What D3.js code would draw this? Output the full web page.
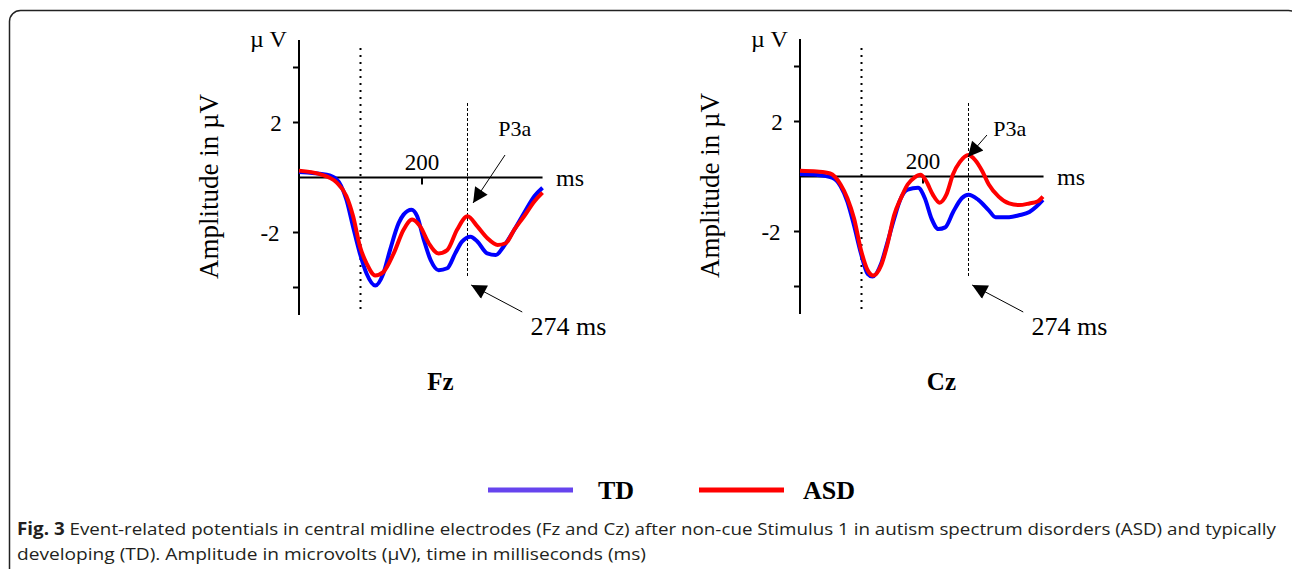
<!DOCTYPE html>
<html>
<head>
<meta charset="utf-8">
<script src="https://cdn.jsdelivr.net/npm/d3@7"></script>
<style>
    body { margin: 0; background: #fff; }
    svg { display: block; }
    .serif { font-family: "Liberation Serif", "DejaVu Serif", serif; fill: #000; }
</style>
</head>
<body>
<svg id="chart" width="1292" height="569"></svg>
<script>
// ERP waveforms, time in ms, amplitude in µV
const fzTdTime = [0, 45, 61, 77, 88, 99, 110, 124, 137, 148, 162, 170, 183, 192, 203, 214, 227, 241, 254, 265, 279, 290, 306, 320, 333, 350, 366, 383, 396];
const fzTdAmp = [0.2, 0.1, -0.06, -0.8, -1.8, -2.76, -3.5, -3.93, -3.5, -2.64, -1.66, -1.35, -1.17, -1.4, -2.27, -3.0, -3.37, -3.3, -2.76, -2.33, -2.15, -2.33, -2.76, -2.82, -2.5, -1.9, -1.29, -0.67, -0.37];
const fzAsdTime = [0, 34, 61, 77, 88, 99, 110, 124, 137, 154, 170, 184, 197, 211, 227, 241, 257, 274, 290, 306, 323, 336, 350, 366, 383, 396];
const fzAsdAmp = [0.25, 0.12, -0.18, -0.67, -1.41, -2.5, -3.13, -3.56, -3.44, -2.76, -1.9, -1.53, -1.78, -2.39, -2.76, -2.64, -1.9, -1.41, -1.78, -2.2, -2.45, -2.39, -1.9, -1.41, -0.86, -0.55];

const czTdTime = [0, 27, 52, 66, 77, 88, 99, 110, 118, 132, 142, 153, 164, 175, 192, 203, 214, 225, 236, 249, 263, 274, 290, 307, 318, 340, 356, 373, 384, 395];
const czTdAmp = [0.09, 0.06, -0.04, -0.35, -0.91, -1.79, -2.79, -3.54, -3.64, -3.16, -2.41, -1.54, -0.79, -0.48, -0.41, -0.79, -1.54, -1.91, -1.85, -1.29, -0.79, -0.66, -0.85, -1.23, -1.48, -1.48, -1.41, -1.29, -1.1, -0.85];
const czAsdTime = [0, 27, 49, 66, 77, 88, 99, 110, 119, 132, 142, 153, 164, 175, 186, 196, 205, 216, 227, 238, 249, 260, 274, 285, 296, 307, 323, 340, 356, 373, 386, 395];
const czAsdAmp = [0.21, 0.18, 0.11, -0.29, -0.79, -1.54, -2.66, -3.41, -3.6, -3.23, -2.48, -1.41, -0.79, -0.29, -0.04, 0.06, -0.16, -0.66, -0.95, -0.66, 0.09, 0.53, 0.78, 0.59, 0.21, -0.29, -0.73, -0.98, -1.04, -0.98, -0.91, -0.73];

const yTicks = [4, 2, 0, -2, -4];
const yTickLabels = ["2", "-2"];
const xTickValue = 200;
const markerTimes = [100, 274];

const seriesNames = ["TD", "ASD"];
const seriesColors = {TD: "#0000ff", ASD: "#ff0000"};
const legendColors = {TD: "#6644ee", ASD: "#ff0000"};

// annotation anchors per panel: [ms, px y]
const panels = [
    {name: "Fz", left: 299, yRange: [315, 40], tdT: fzTdTime, tdV: fzTdAmp, asdT: fzAsdTime, asdV: fzAsdAmp,
        p3aLabel: [351, 136], p3aTail: [335, 155], p3aTip: [283, 203]},
    {name: "Cz", left: 800, yRange: [314, 39], tdT: czTdTime, tdV: czTdAmp, asdT: czAsdTime, asdV: czAsdAmp,
        p3aLabel: [341, 136], p3aTail: [304, 135], p3aTip: [273, 157]}
];

const svg = d3.select("#chart");

// outer frame (rounded, runs off the bottom/right)
svg.append("rect").attr("x", 9.5).attr("y", 10.5).attr("width", 1290).attr("height", 620)
    .attr("rx", 11).attr("fill", "none").attr("stroke", "#222").attr("stroke-width", 1.5);

// arrow marker
svg.append("defs").append("marker").attr("id", "arrowHead")
    .attr("viewBox", "0 0 10 10").attr("refX", 10).attr("refY", 5)
    .attr("markerWidth", 19).attr("markerHeight", 15).attr("markerUnits", "userSpaceOnUse")
    .attr("orient", "auto")
    .append("path").attr("d", "M0,0 L10,5 L0,10 Z").attr("fill", "#000");

function drawPanel(p) {
    let x = d3.scaleLinear().domain([0, 400]).range([p.left, p.left + 246]);
    let y = d3.scaleLinear().domain([-5, 5]).range(p.yRange);
    let g = svg.append("g").attr("id", "panel_" + p.name);

    // y axis line + left ticks
    g.append("line").attr("x1", x(0)).attr("x2", x(0)).attr("y1", y(5)).attr("y2", y(-5))
        .attr("stroke", "#000").attr("stroke-width", 2);
    g.selectAll(".ytick").data(yTicks.filter(d => d !== 0)).enter().append("line")
        .attr("x1", x(0) - 6).attr("x2", x(0)).attr("y1", d => y(d)).attr("y2", d => y(d))
        .attr("stroke", "#000").attr("stroke-width", 2);
    g.append("text").attr("class", "serif").attr("x", x(0) - 23).attr("y", y(2) + 8)
        .attr("text-anchor", "middle").style("font-size", "23px").text(yTickLabels[0]);
    g.append("text").attr("class", "serif").attr("x", x(0) - 29).attr("y", y(-2) + 8)
        .attr("text-anchor", "middle").style("font-size", "23px").text(yTickLabels[1]);

    // zero line and 200 ms tick
    g.append("line").attr("x1", x(0)).attr("x2", x(396)).attr("y1", y(0)).attr("y2", y(0))
        .attr("stroke", "#000").attr("stroke-width", 2);
    g.append("line").attr("x1", x(xTickValue)).attr("x2", x(xTickValue)).attr("y1", y(0)).attr("y2", y(0) + 7)
        .attr("stroke", "#000").attr("stroke-width", 2);
    g.append("text").attr("class", "serif").attr("x", x(xTickValue)).attr("y", y(0) - 8)
        .attr("text-anchor", "middle").style("font-size", "23px").text("200");
    g.append("text").attr("class", "serif").attr("x", x(418)).attr("y", y(0) + 8)
        .style("font-size", "24px").text("ms");

    // unit + axis title
    g.append("text").attr("class", "serif").attr("x", x(0) - 49).attr("y", 47)
        .style("font-size", "24px").text("µ V");
    g.append("text").attr("class", "serif")
        .attr("transform", `translate(${x(0) - 81},${y(0) + 9}) rotate(-90)`)
        .attr("text-anchor", "middle").style("font-size", "27px").text("Amplitude in µV");

    // stimulus / latency markers
    g.append("line").attr("x1", x(markerTimes[0])).attr("x2", x(markerTimes[0]))
        .attr("y1", 48).attr("y2", 313).attr("stroke", "#000").attr("stroke-width", 2)
        .attr("stroke-dasharray", "2,5");
    g.append("line").attr("x1", x(markerTimes[1])).attr("x2", x(markerTimes[1]))
        .attr("y1", 103).attr("y2", 277).attr("stroke", "#000").attr("stroke-width", 1)
        .attr("stroke-dasharray", "3,2");

    // waveforms
    let line = d3.line().x(d => x(d[0])).y(d => y(d[1])).curve(d3.curveMonotoneX);
    g.append("path").datum(d3.zip(p.tdT, p.tdV)).attr("d", line)
        .attr("fill", "none").attr("stroke", seriesColors.TD).attr("stroke-width", 4);
    g.append("path").datum(d3.zip(p.asdT, p.asdV)).attr("d", line)
        .attr("fill", "none").attr("stroke", seriesColors.ASD).attr("stroke-width", 4);

    // annotations
    g.append("text").attr("class", "serif").attr("x", x(p.p3aLabel[0])).attr("y", p.p3aLabel[1])
        .attr("text-anchor", "middle").style("font-size", "22px").text("P3a");
    g.append("line").attr("x1", x(p.p3aTail[0])).attr("y1", p.p3aTail[1])
        .attr("x2", x(p.p3aTip[0])).attr("y2", p.p3aTip[1])
        .attr("stroke", "#000").attr("stroke-width", 1).attr("marker-end", "url(#arrowHead)");

    g.append("line").attr("x1", x(363)).attr("y1", 312).attr("x2", x(280)).attr("y2", 285)
        .attr("stroke", "#000").attr("stroke-width", 1).attr("marker-end", "url(#arrowHead)");
    g.append("text").attr("class", "serif").attr("x", x(438)).attr("y", 335)
        .attr("text-anchor", "middle").style("font-size", "26px").text("274 ms");

    g.append("text").attr("class", "serif").attr("x", x(230)).attr("y", 390)
        .attr("text-anchor", "middle").style("font-size", "25px").style("font-weight", "bold").text(p.name);
}

panels.forEach(drawPanel);

// legend
let legendX = [488, 699];
let legendTextX = [598, 803];
seriesNames.forEach((s, i) => {
    svg.append("line").attr("x1", legendX[i]).attr("x2", legendX[i] + 85).attr("y1", 490).attr("y2", 490)
        .attr("stroke", legendColors[s]).attr("stroke-width", 5);
    svg.append("text").attr("class", "serif").attr("x", legendTextX[i]).attr("y", 499)
        .style("font-size", "26px").style("font-weight", "bold").text(s);
});

// caption
let cap1 = svg.append("text").attr("x", 17).attr("y", 535)
    .attr("textLength", 1259).attr("lengthAdjust", "spacingAndGlyphs")
    .style("font-family", "'Open Sans', 'Noto Sans', sans-serif").style("font-size", "17px").style("fill", "#231f20");
cap1.append("tspan").style("font-weight", "bold").text("Fig. 3");
cap1.append("tspan").text(" Event-related potentials in central midline electrodes (Fz and Cz) after non-cue Stimulus 1 in autism spectrum disorders (ASD) and typically");
svg.append("text").attr("x", 17).attr("y", 560)
    .attr("textLength", 629).attr("lengthAdjust", "spacingAndGlyphs")
    .style("font-family", "'Open Sans', 'Noto Sans', sans-serif").style("font-size", "17px").style("fill", "#231f20")
    .text("developing (TD). Amplitude in microvolts (µV), time in milliseconds (ms)");
</script>
</body>
</html>
